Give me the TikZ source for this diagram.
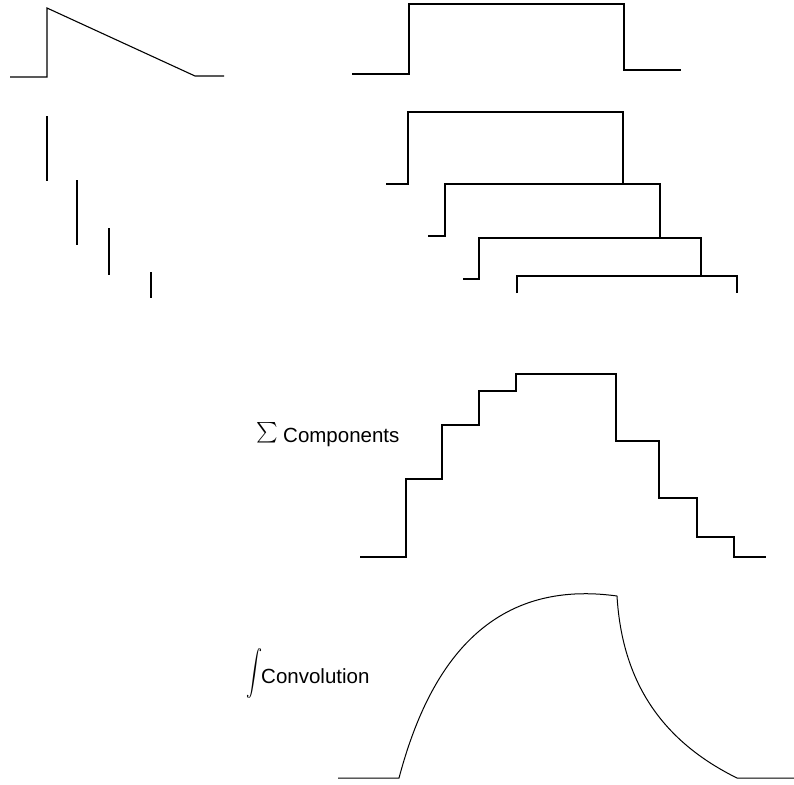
\documentclass[tikz,border=0pt]{standalone}
\usepackage{graphicx}
\usepackage{fontspec}
\setmainfont{Liberation Sans}
\begin{document}
\begin{tikzpicture}[x=1pt,y=-1pt,
  sig/.style={draw=black,line width=1.1pt,line join=miter},
  lbl/.style={inner sep=0pt,font=\fontsize{20.5}{24}\selectfont}]
\useasboundingbox (0,0) rectangle (794,784);
% top-left sawtooth pulse
\draw[sig] (10,77) -- (47,77) -- (47,8) -- (195,76) -- (224,76);
% top-right rectangular pulse
\draw[sig] (352,74) -- (409,74) -- (409,4) -- (624,4) -- (624,70) -- (681,70);
% impulses
\draw[sig] (47,116) -- (47,181);
\draw[sig] (77,180) -- (77,245);
\draw[sig] (109,228) -- (109,275);
\draw[sig] (151,272) -- (151,298);
% shifted components
\draw[sig] (386,184) -- (408,184) -- (408,112) -- (623,112) -- (623,184);
\draw[sig] (428,236) -- (445,236) -- (445,184) -- (660,184) -- (660,237);
\draw[sig] (463,279) -- (479,279) -- (479,238) -- (701,238) -- (701,276);
\draw[sig] (517,293) -- (517,276) -- (737,276) -- (737,293);
% sum of components
\draw[sig] (360,557) -- (406,557) -- (406,479) -- (442,479) -- (442,425)
  -- (479,425) -- (479,391) -- (516,391) -- (516,374) -- (616,374)
  -- (616,441) -- (659,441) -- (659,498) -- (697,498) -- (697,537)
  -- (734,537) -- (734,557) -- (766,557);
\node[inner sep=0pt,anchor=center] (sumsym) at (267,432.5) {\scalebox{2.05}{$\textstyle\sum$}};
\node[lbl,anchor=base west] (comp) at (283,442) {Components};
% convolution
\draw[sig,line width=1pt] (338,778) -- (399,778)
  .. controls (425,680) and (480,577) .. (617,596)
  .. controls (622,680) and (660,740) .. (737,778) -- (794,778);
\node[inner sep=0pt,anchor=center] (intsym) at (254,673) {\scalebox{1.6}[2.25]{$\displaystyle\int$}};
\node[lbl,anchor=base west] (conv) at (261,683) {Convolution};
\end{tikzpicture}
\end{document}
